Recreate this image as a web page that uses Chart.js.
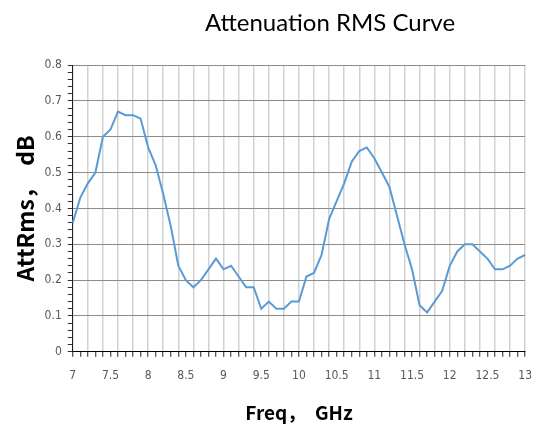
<!DOCTYPE html>
<html>
<head>
<meta charset="utf-8">
<script src="https://cdn.jsdelivr.net/npm/chart.js@4"></script>
<style>
  html, body { margin: 0; padding: 0; background: #fff; }
  #wrap { width: 544px; height: 428px; }
</style>
</head>
<body>
<div id="wrap"><canvas id="attChart" width="544" height="428"></canvas></div>
<script>
// 频率 (GHz), 步进 0.1
const freqs = [
    7.0, 7.1, 7.2, 7.3, 7.4, 7.5, 7.6, 7.7, 7.8, 7.9,
    8.0, 8.1, 8.2, 8.3, 8.4, 8.5, 8.6, 8.7, 8.8, 8.9,
    9.0, 9.1, 9.2, 9.3, 9.4, 9.5, 9.6, 9.7, 9.8, 9.9,
    10.0, 10.1, 10.2, 10.3, 10.4, 10.5, 10.6, 10.7, 10.8, 10.9,
    11.0, 11.1, 11.2, 11.3, 11.4, 11.5, 11.6, 11.7, 11.8, 11.9,
    12.0, 12.1, 12.2, 12.3, 12.4, 12.5, 12.6, 12.7, 12.8, 12.9,
    13.0,
];
// AttRms (dB)
const attRms = [
    0.36, 0.43, 0.47, 0.50, 0.60, 0.62, 0.67, 0.66, 0.66, 0.65,
    0.57, 0.52, 0.44, 0.35, 0.24, 0.20, 0.18, 0.20, 0.23, 0.26,
    0.23, 0.24, 0.21, 0.18, 0.18, 0.12, 0.14, 0.12, 0.12, 0.14,
    0.14, 0.21, 0.22, 0.27, 0.37, 0.42, 0.47, 0.53, 0.56, 0.57,
    0.54, 0.50, 0.46, 0.38, 0.30, 0.23, 0.13, 0.11, 0.14, 0.17,
    0.24, 0.28, 0.30, 0.30, 0.28, 0.26, 0.23, 0.23, 0.24, 0.26,
    0.27,
];
const xTickLabels = ['7', '7.5', '8', '8.5', '9', '9.5', '10', '10.5', '11', '11.5', '12', '12.5', '13'];
const yTickLabels = ['0', '0.1', '0.2', '0.3', '0.4', '0.5', '0.6', '0.7', '0.8'];

const tickFont = {family: "'Liberation Sans Narrow', 'DejaVu Sans Condensed', sans-serif", size: 12};

// 标题单独画, 位置偏右
const titlePlugin = {
    id: 'offsetTitle',
    afterDraw(chart) {
        const c = chart.ctx;
        c.save();
        c.font = "24px Lato, 'Open Sans', sans-serif";
        c.fillStyle = '#000';
        c.textAlign = 'center';
        c.textBaseline = 'middle';
        c.fillText('Attenuation RMS Curve', 330, 23);
        c.restore();
    },
};

const ctx = document.getElementById('attChart').getContext('2d');
new Chart(ctx, {
    type: 'line',
    data: {
        labels: freqs,
        datasets: [
            {
                label: 'AttRms',
                data: attRms,
                borderColor: '#5b9bd5',
                borderWidth: 2,
                pointRadius: 0,
                tension: 0,
                fill: false,
            },
        ],
    },
    options: {
        responsive: false,
        animation: false,
        layout: {padding: {top: 65, right: 18, left: 8, bottom: 4}},
        plugins: {
            legend: {display: false},
            tooltip: {enabled: false},
        },
        scales: {
            x: {
                type: 'category',
                offset: false,
                border: {color: '#000', width: 1},
                grid: {
                    color: (c) => (c.index % 2 === 0 ? '#d2d2d2' : 'rgba(0,0,0,0)'),
                    lineWidth: 1.5,
                    tickLength: 5,
                    tickColor: '#222',
                    tickWidth: 1,
                },
                ticks: {
                    autoSkip: false,
                    maxRotation: 0,
                    padding: 12,
                    color: '#595959',
                    font: tickFont,
                    callback: (v, i) => (i % 5 === 0 ? xTickLabels[i / 5] : ''),
                },
                title: {
                    display: true,
                    text: 'Freq，  GHz',
                    color: '#000',
                    font: {family: "'Noto Sans CJK SC', sans-serif", size: 19, weight: 'bold'},
                    padding: {top: 6, bottom: 0},
                },
            },
            y: {
                min: 0,
                max: 0.8,
                border: {color: '#222', width: 1},
                grid: {
                    color: (c) => (Math.round(c.tick.value * 100) % 10 === 0 ? '#8c8c8c' : 'rgba(0,0,0,0)'),
                    lineWidth: 1,
                    tickLength: 5,
                    tickColor: '#333',
                },
                ticks: {
                    stepSize: 0.02,
                    maxTicksLimit: 100,
                    autoSkip: false,
                    padding: 6,
                    color: '#595959',
                    font: tickFont,
                    callback: (v) => {
                        const k = Math.round(v * 100);
                        return k % 10 === 0 ? yTickLabels[k / 10] : '';
                    },
                },
                title: {
                    display: true,
                    text: 'AttRms，  dB',
                    color: '#000',
                    font: {family: "'Noto Sans CJK SC', sans-serif", size: 23, weight: 'bold'},
                    padding: {top: 3, bottom: 0},
                },
            },
        },
    },
    plugins: [titlePlugin],
});
</script>
</body>
</html>
